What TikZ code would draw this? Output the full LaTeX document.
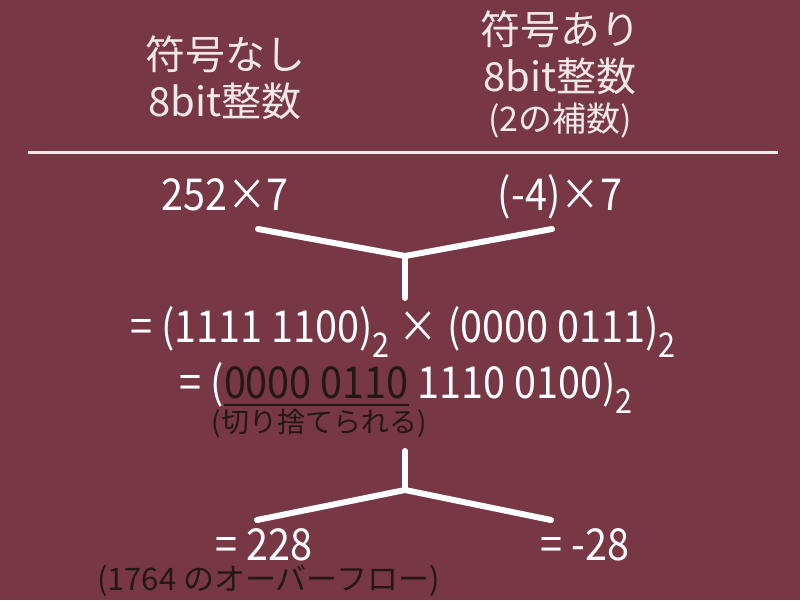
\documentclass[tikz,border=0pt]{standalone}
\usepackage{fontspec}
\setmainfont{Noto Sans CJK JP}
\newfontfamily\narrowfont[FakeStretch=0.9]{Noto Sans CJK JP}
\definecolor{bg}{HTML}{783745}
\definecolor{hd}{HTML}{F2E8E8}
\definecolor{dk}{HTML}{231815}
\newcommand\subtwo{\raisebox{-15pt}{\fontsize{34}{34}\selectfont 2}}
\begin{document}
\begin{tikzpicture}[x=1pt,y=-1pt,
  txt/.style={inner sep=0pt,outer sep=0pt,anchor=base,text=white,font=\narrowfont\fontsize{44}{52}\selectfont},
  head/.style={inner sep=0pt,outer sep=0pt,anchor=base,text=hd,font=\fontsize{40}{48}\selectfont},
  note/.style={inner sep=0pt,outer sep=0pt,anchor=base,text=dk,font=\fontsize{28}{34}\selectfont},
  conn/.style={draw=white,line width=6pt,line cap=round,line join=round},
  rule/.style={draw=hd,line width=3pt}]
\fill[bg] (0,0) rectangle (800,600);
\useasboundingbox (0,0) rectangle (800,600);
% headers
\node[head] (h1a) at (225,69) {符号なし};
\node[head] (h1b) at (225,116) {8bit整数};
\node[head] (h2a) at (560,44) {符号あり};
\node[head] (h2b) at (560,91) {8bit整数};
\node[head,font=\fontsize{34}{40}\selectfont] (h2c) at (560,131) {(2の補数)};
\coordinate (hl) at (28,152);
\coordinate (hr) at (778,152);
\draw[rule] (hl) -- (hr);
% operands
\node[txt] (o1) at (225,210) {252×7};
\node[txt] (o2) at (560,210) {(-4)×7};
\coordinate (v1l) at (258,229);
\coordinate (v1r) at (552,229);
\coordinate (v1m) at (405,256);
\coordinate (v1b) at (405,298);
\draw[conn] (v1l) -- (v1m) -- (v1r);
\draw[conn] (v1m) -- (v1b);
% row 1
\node[txt] (r1) at (403,342) {= (1111 1100)\subtwo\ × (0000 0111)\subtwo};
% row 2
\node[txt,anchor=base east] (r2a) at (224,398) {= (};
\node[txt,anchor=base west,text=dk] (r2b) at (r2a.base east) {0000 0110};
\node[txt,anchor=base west] (r2c) at (r2b.base east) {\ 1110 0100)\subtwo};
\draw[dk,line width=2pt] ([yshift=-7pt]r2b.base west) -- ([yshift=-7pt]r2b.base east);
\node[note] (n1) at (319,432) {(切り捨てられる)};
% lower connector
\coordinate (v2t) at (405,451);
\coordinate (v2m) at (405,490);
\coordinate (v2l) at (257,520);
\coordinate (v2r) at (551,520);
\draw[conn] (v2l) -- (v2m) -- (v2r);
\draw[conn] (v2m) -- (v2t);
% results
\node[txt] (res1) at (264,560) {= 228};
\node[txt] (res2) at (585,560) {= -28};
\node[note,font=\fontsize{31}{36}\selectfont,anchor=base west] (n2) at (97,590) {(1764 のオーバーフロー)};
\end{tikzpicture}
\end{document}
